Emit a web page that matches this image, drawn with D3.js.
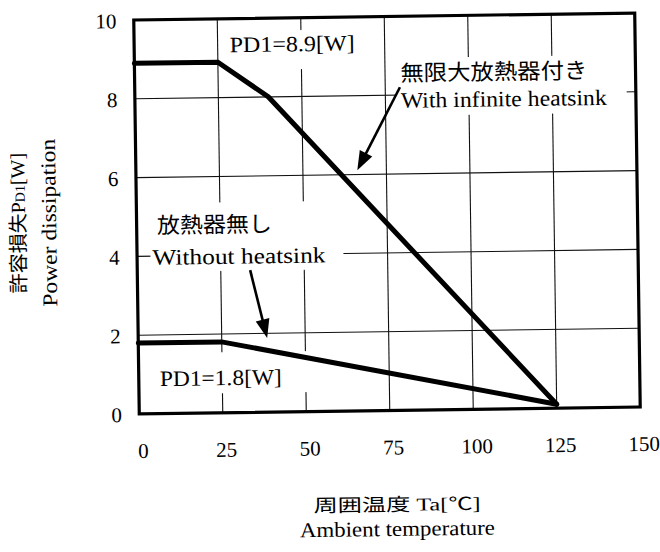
<!DOCTYPE html>
<html>
<head>
<meta charset="utf-8">
<script src="https://cdn.jsdelivr.net/npm/d3@7"></script>
<style>
  html, body { margin: 0; padding: 0; background: #fff; }
  svg { display: block; }
  text { font-family: "Liberation Serif", "Noto Sans CJK JP", serif; fill: #000; }
</style>
</head>
<body>
<svg id="chart" width="660" height="552"></svg>
<script>
// Power derating: allowable power dissipation vs ambient temperature
const tempWithSink = [0, 25, 40, 125];
const pdWithSink   = [8.9, 8.9, 8.0, 0.1];
const tempNoSink   = [0, 25, 125];
const pdNoSink     = [1.8, 1.8, 0.1];
const xTicks = [0, 25, 50, 75, 100, 125, 150];
const yTicks = [0, 2, 4, 6, 8, 10];
const gridX = [25, 50, 75, 100, 125];
const gridY = [2, 4, 6, 8];

const W = 660, H = 552;
const m = { left: 136.5, top: 16.5, right: 22.5, bottom: 141.5 };
const iw = W - m.left - m.right, ih = H - m.top - m.bottom;

const svg = d3.select("#chart");
// the printed sheet sits at a slight tilt
const root = svg.append("g").attr("transform", "rotate(-0.8, 387, 214)");

const x = d3.scaleLinear().domain([0, 150]).range([m.left, m.left + iw]);
const y = d3.scaleLinear().domain([0, 10]).range([m.top + ih, m.top]);

// grid
const grid = root.append("g").attr("stroke", "#111").attr("stroke-width", 1.1);
grid.selectAll("line.gx").data(gridX).join("line")
  .attr("x1", d => x(d)).attr("x2", d => x(d))
  .attr("y1", y(0)).attr("y2", y(10));
grid.selectAll("line.gy").data(gridY).join("line")
  .attr("x1", x(0)).attr("x2", x(150))
  .attr("y1", d => y(d)).attr("y2", d => y(d));

// axes (labels only; the frame is drawn as a box)
const xAxis = d3.axisBottom(x).tickValues(xTicks).tickSize(0).tickPadding(0);
const gx = root.append("g").attr("transform", `translate(3,${y(0) + 44})`).call(xAxis);
gx.select(".domain").remove();
gx.selectAll("text").attr("font-size", 21).attr("dy", 0)
  .style("font-family", "'Liberation Serif', serif").attr("fill", "#000");

const yAxis = d3.axisLeft(y).tickValues(yTicks).tickSize(0).tickPadding(0);
const gy = root.append("g").attr("transform", `translate(119,0)`).call(yAxis);
gy.select(".domain").remove();
gy.selectAll("text").attr("font-size", 21).attr("dy", 7.5)
  .style("font-family", "'Liberation Serif', serif").attr("fill", "#000");

// annotation labels with white backing boxes
function labelGroup(lines, pad) {
  const g = root.append("g");
  const box = g.append("rect").attr("fill", "#fff");
  lines.forEach(l => {
    g.append("text").attr("x", l.x).attr("y", l.y)
      .attr("font-size", l.size)
      .attr("textLength", l.len).attr("lengthAdjust", "spacingAndGlyphs")
      .text(l.t);
  });
  const bb = g.node().getBBox();
  box.attr("x", bb.x - pad.l).attr("y", bb.y - pad.t)
     .attr("width", bb.width + pad.l + pad.r)
     .attr("height", bb.height + pad.t + pad.b);
  return g;
}

labelGroup([{ t: "PD1=8.9[W]", x: x(28.6), y: y(9.15), size: 22, len: 125 }],
  { l: 6, r: 6, t: 1, b: 13 });

labelGroup([
  { t: "無限大放熱器付き", x: x(79.6), y: y(8.36), size: 22, len: 187 },
  { t: "With infinite heatsink", x: x(79.6), y: y(7.68), size: 22, len: 206 }
], { l: 5, r: 20, t: 3, b: 3 });

labelGroup([
  { t: "放熱器無し", x: x(6.1), y: y(4.58), size: 22, len: 115 },
  { t: "Without heatsink", x: x(4.6), y: y(3.78), size: 22, len: 173 }
], { l: 2, r: 18, t: 10, b: 2 });

labelGroup([{ t: "PD1=1.8[W]", x: x(6.3), y: y(0.70), size: 22, len: 122 }],
  { l: 2, r: 33, t: 13, b: 3 });

// plot frame
root.append("rect")
  .attr("x", x(0)).attr("y", y(10))
  .attr("width", x(150) - x(0)).attr("height", y(0) - y(10))
  .attr("fill", "none").attr("stroke", "#000").attr("stroke-width", 3.2);

// derating curves
const line = d3.line().x(d => x(d[0])).y(d => y(d[1]));
root.append("path")
  .datum(d3.zip(tempWithSink, pdWithSink))
  .attr("d", line).attr("fill", "none").attr("stroke", "#000")
  .attr("stroke-width", 5).attr("stroke-linecap", "round");
root.append("path")
  .datum(d3.zip(tempNoSink, pdNoSink))
  .attr("d", line).attr("fill", "none").attr("stroke", "#000")
  .attr("stroke-width", 5).attr("stroke-linecap", "round");

// pointer arrows
function arrow(x1, y1, x2, y2) {
  const dx = x2 - x1, dy = y2 - y1, L = Math.hypot(dx, dy);
  const ux = dx / L, uy = dy / L, hl = 19, hw = 7;
  const bx = x2 - ux * hl, by = y2 - uy * hl;
  root.append("line")
    .attr("x1", x1).attr("y1", y1).attr("x2", bx + ux * 2).attr("y2", by + uy * 2)
    .attr("stroke", "#000").attr("stroke-width", 2.6);
  root.append("path")
    .attr("d", `M${x2},${y2}L${bx - uy * hw},${by + ux * hw}L${bx + uy * hw},${by - ux * hw}Z`)
    .attr("fill", "#000");
}
arrow(x(79.4), y(8.2), x(66.3), y(6.11));
arrow(x(33.8), y(3.61), x(38.6), y(1.88));

// axis titles
root.append("text").attr("x", 393).attr("y", 511)
  .attr("text-anchor", "middle").attr("font-size", 18)
  .attr("textLength", 167).attr("lengthAdjust", "spacingAndGlyphs")
  .text("周囲温度 Ta[℃]");
root.append("text").attr("x", 393).attr("y", 536)
  .attr("text-anchor", "middle").attr("font-size", 21)
  .attr("textLength", 195).attr("lengthAdjust", "spacingAndGlyphs")
  .text("Ambient temperature");

const yt1 = root.append("text")
  .attr("transform", "translate(25,218) rotate(-90)")
  .attr("text-anchor", "middle").attr("font-size", 20);
yt1.append("tspan").text("許容損失P");
yt1.append("tspan").attr("font-size", 14).text("D1");
yt1.append("tspan").text("[W]");

root.append("text")
  .attr("transform", "translate(56,218) rotate(-90)")
  .attr("text-anchor", "middle").attr("font-size", 21)
  .attr("textLength", 168).attr("lengthAdjust", "spacingAndGlyphs")
  .text("Power dissipation");
</script>
</body>
</html>
